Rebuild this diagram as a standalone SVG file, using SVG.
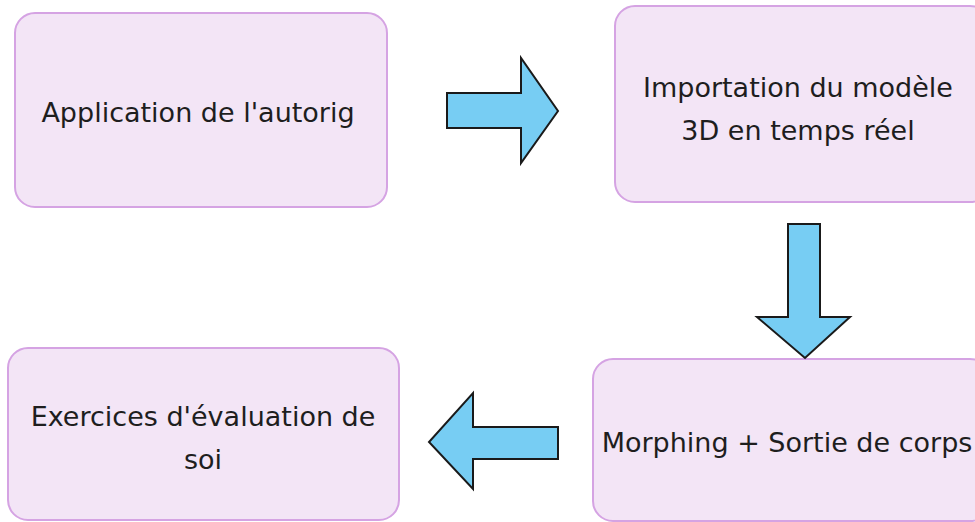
<svg xmlns="http://www.w3.org/2000/svg" width="975" height="522" viewBox="0 0 975 522">
<style>
.box{fill:#f3e5f6;stroke:#d5a3e3;stroke-width:2}
.lbl{font-family:"DejaVu Sans",sans-serif;font-size:27px;fill:#1e1e1e;text-anchor:middle}
.arr{fill:#77cdf3;stroke:#1a1a1a;stroke-width:2;stroke-linejoin:miter}
</style>
<rect width="975" height="522" fill="#ffffff"/>
<g id="n1">
<rect class="box" x="15" y="13" width="372" height="194" rx="20" ry="20"/>
<text class="lbl" x="198" y="122">Application de l'autorig</text>
</g>
<g id="n2">
<rect class="box" x="615" y="6" width="375" height="196" rx="20" ry="20"/>
<text class="lbl" x="798" y="97">Importation du modèle</text>
<text class="lbl" x="798" y="140">3D en temps réel</text>
</g>
<g id="n3">
<rect class="box" x="8" y="348" width="391" height="172" rx="20" ry="20"/>
<text class="lbl" x="203" y="426">Exercices d'évaluation de</text>
<text class="lbl" x="203" y="469">soi</text>
</g>
<g id="n4">
<rect class="box" x="593" y="359" width="397" height="162" rx="20" ry="20"/>
<text class="lbl" x="787" y="452">Morphing + Sortie de corps</text>
</g>
<g id="connectors">
<polygon class="arr" points="447,93 521,93 521,58 558,111 521,163 521,128 447,128"/>
<polygon class="arr" points="788,224 820,224 820,317 850,317 805,358 757,317 788,317"/>
<polygon class="arr" points="558,427 473,427 473,393 429,442 473,489 473,459 558,459"/>
</g>
</svg>
